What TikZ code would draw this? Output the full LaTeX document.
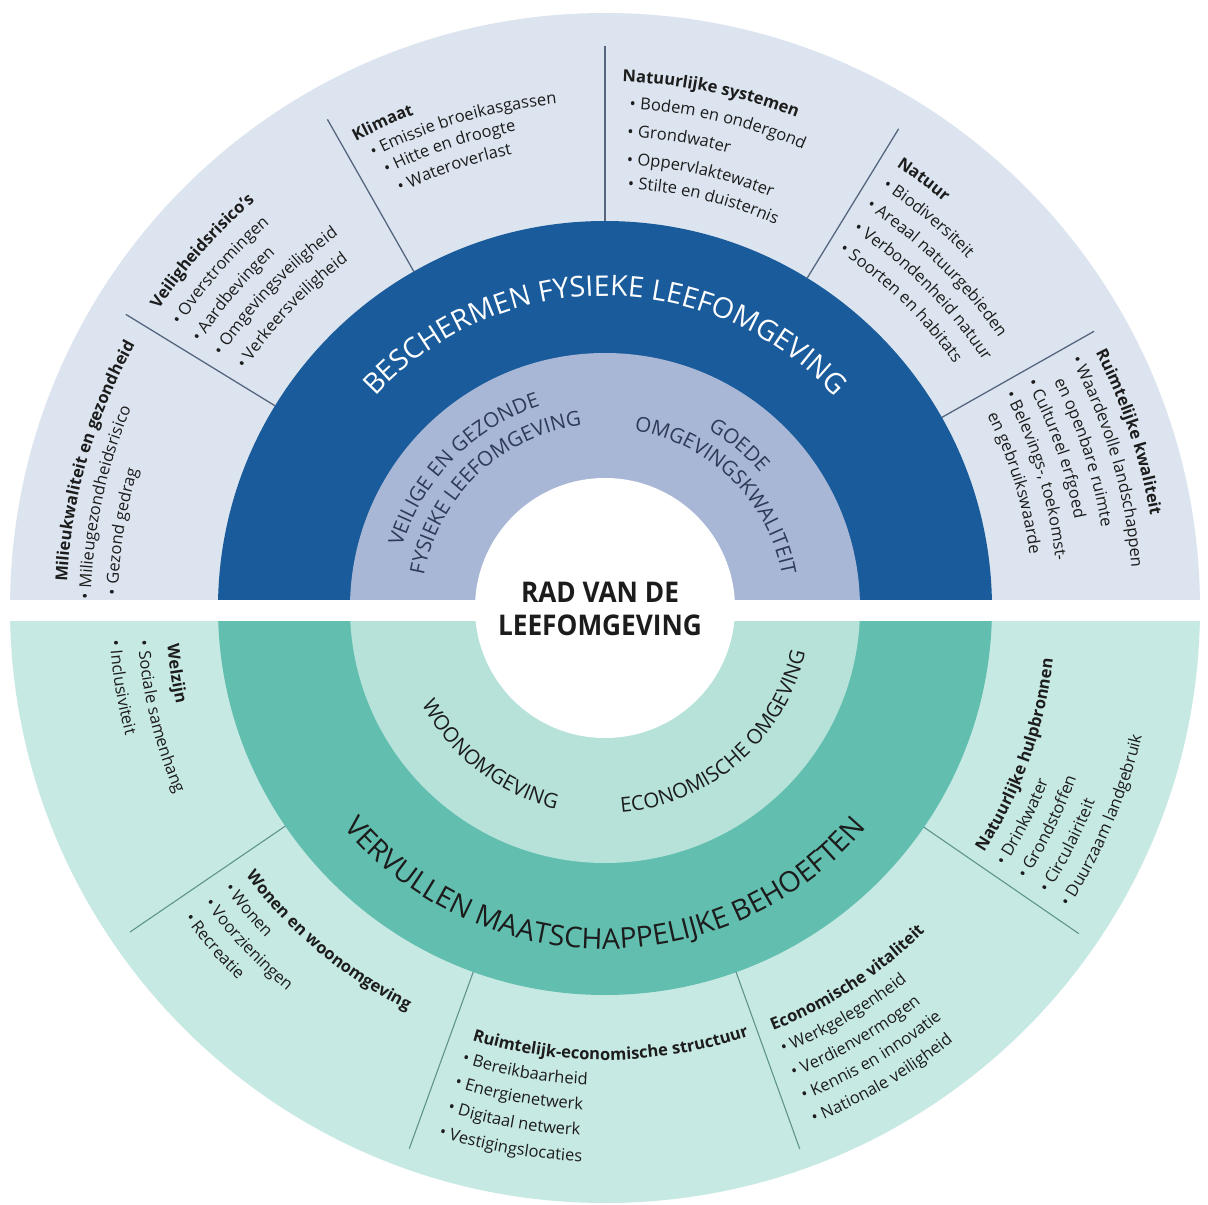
\documentclass[tikz,border=0pt]{standalone}
\usepackage{fontspec}
\usepackage{graphicx}
\setmainfont{Open Sans}
\usetikzlibrary{decorations.text}
\definecolor{topOuter}{HTML}{DCE5EF}
\definecolor{topDark}{HTML}{1A5B9B}
\definecolor{topInner}{HTML}{A8B7D6}
\definecolor{botOuter}{HTML}{C7E9E3}
\definecolor{botDark}{HTML}{62BFAF}
\definecolor{botInner}{HTML}{B6E2DA}
\definecolor{inkDark}{HTML}{1C1C1C}
\definecolor{inkBlue}{HTML}{2E3A56}
\definecolor{sepTopC}{HTML}{55667E}
\definecolor{sepBotC}{HTML}{5E948C}
\newcommand\wbody{\fontsize{16.5}{20}\selectfont\color{inkDark}}
\newcommand\whead{\fontsize{16.5}{20}\selectfont\bfseries\color{inkDark}}
\newcommand\wring{\fontsize{28.5}{31}\selectfont}
\newcommand\winner{\fontsize{20.5}{24}\selectfont}
% text on an arc around the centre: start angle, baseline radius, text
\newcommand\topline[3]{\path[decorate,decoration={text along path,text align=left,text={#3}}] (#1:#2) arc[start angle=#1,delta angle=-70,radius=#2];}
\newcommand\botline[3]{\path[decorate,decoration={text along path,text align=left,text={#3}}] (#1:#2) arc[start angle=#1,delta angle=70,radius=#2];}
\begin{document}
\begin{tikzpicture}[x=1pt,y=1pt,
  sepTop/.style={draw=sepTopC,line width=1.3pt},
  sepBot/.style={draw=sepBotC,line width=1.1pt},
  centerlbl/.style={font=\fontsize{28.5}{32}\selectfont\bfseries,text=inkDark,inner sep=0pt,anchor=base}]
\useasboundingbox (-605,-597) rectangle (603,608);
\fill[white] (-605,-597) rectangle (603,608);
% top half
\fill[topOuter] (0:595) arc[start angle=0,end angle=180,radius=595] -- cycle;
\fill[topDark] (0:387) arc[start angle=0,end angle=180,radius=387] -- cycle;
\fill[topInner] (0:255) arc[start angle=0,end angle=180,radius=255] -- cycle;
% bottom half
\fill[botOuter] (180:595) arc[start angle=180,end angle=360,radius=595] -- cycle;
\fill[botDark] (180:387) arc[start angle=180,end angle=360,radius=387] -- cycle;
\fill[botInner] (180:255) arc[start angle=180,end angle=360,radius=255] -- cycle;
\fill[white] (0,0) circle[radius=130];
% separators
\foreach \a in {29.5,58.5,90,119.6,148.5} \draw[sepTop] (\a:387) -- (\a:562);
\foreach \a in {214.3,250.1,289.8,325.5} \draw[sepBot] (\a:387) -- (\a:575);
% white band
\fill[white] (-605,8) rectangle (603,-13);
% ring labels
\path[decorate,decoration={text along path,text align=center,text={|\wring\color{white}|BESCHERMEN FYSIEKE LEEFOMGEVING}}] (160:312) arc[start angle=160,end angle=20,radius=312];
\path[decorate,decoration={text along path,text align=center,text={|\wring\color{inkDark}|VERVULLEN MAATSCHAPPELIJKE BEHOEFTEN}}] (200:341) arc[start angle=200,end angle=340,radius=341];
% inner ring labels
\path[decorate,decoration={text along path,text align=center,text={|\winner\color{inkBlue}|VEILIGE EN GEZONDE}}] (185.5:212) arc[start angle=185.5,end angle=85.5,radius=212];
\path[decorate,decoration={text along path,text align=center,text={|\winner\color{inkBlue}|FYSIEKE LEEFOMGEVING}}] (183.5:184) arc[start angle=183.5,end angle=83.5,radius=184];
\path[decorate,decoration={text along path,text align=center,text={|\winner\color{inkBlue}|GOEDE}}] (100.5:206) arc[start angle=100.5,end angle=0.5,radius=206];
\path[decorate,decoration={text along path,text align=center,text={|\winner\color{inkBlue}|OMGEVINGSKWALITEIT}}] (95.5:180) arc[start angle=95.5,end angle=-4.5,radius=180];
\path[decorate,decoration={text along path,text align=center,text={|\winner\color{inkDark}|WOONOMGEVING}}] (182:207) arc[start angle=182,end angle=282,radius=207];
\path[decorate,decoration={text along path,text align=center,text={|\winner\color{inkDark}|ECONOMISCHE OMGEVING}}] (256:205) arc[start angle=256,end angle=366,radius=205];
% centre
\node[centerlbl] (radA) at (-5,6) {\scalebox{0.92}[1]{RAD VAN DE}};
\node[centerlbl] (radB) at (-5,-27) {\scalebox{0.92}[1]{LEEFOMGEVING}};
% T1 Milieukwaliteit
\topline{177.2}{538.6}{|\whead|Milieukwaliteit en gezondheid}
\topline{179.0}{514.1}{|\wbody|• Milieugezondheidsrisico}
\topline{178.5}{487.2}{|\wbody|• Gezond gedrag}
% T2 Veiligheidsrisico's
\topline{146.2}{537.0}{|\whead|Veiligheidsrisico’s}
\topline{146.4}{510.0}{|\wbody|• Overstromingen}
\topline{146.8}{484.0}{|\wbody|• Aardbevingen}
\topline{146.7}{458.5}{|\wbody|• Omgevingsveiligheid}
\topline{146.5}{431.6}{|\wbody|• Verkeersveiligheid}
% T3 Klimaat
\topline{118.1}{529.0}{|\whead|Klimaat}
\topline{117.2}{506.4}{|\wbody|• Emissie broeikasgassen}
\topline{116.7}{485.1}{|\wbody|• Hitte en droogte}
\topline{116.2}{462.8}{|\wbody|• Wateroverlast}
% T4 Natuurlijke systemen
\topline{88.1}{526.3}{|\whead|Natuurlijke systemen}
\topline{87.2}{499.6}{|\wbody|• Bodem en ondergond}
\topline{87.3}{471.5}{|\wbody|• Grondwater}
\topline{87.2}{443.5}{|\wbody|• Oppervlaktewater}
\topline{86.9}{419.6}{|\wbody|• Stilte en duisternis}
% T5 Natuur
\topline{56.6}{529.2}{|\whead|Natuur}
\topline{56.6}{503.5}{|\wbody|• Biodiversiteit}
\topline{56.9}{477.6}{|\wbody|• Areaal natuurgebieden}
\topline{56.7}{451.7}{|\wbody|• Verbondenheid natuur}
\topline{56.7}{426.0}{|\wbody|• Soorten en habitats}
% T6 Ruimtelijke kwaliteit
\topline{27.5}{553}{|\whead|Ruimtelijke kwaliteit}
\topline{28.1}{528}{|\wbody|• Waardevolle landschappen}
\topline{26.8}{503}{|\wbody|en openbare ruimte}
\topline{28.1}{478}{|\wbody|• Cultureel erfgoed}
\topline{28.1}{453}{|\wbody|• Belevings-, toekomst-}
\topline{26.8}{428}{|\wbody|en gebruikswaarde}
% B1 Welzijn
\botline{184.8}{439.2}{|\whead|Welzijn}
\botline{184.0}{468.1}{|\wbody|• Sociale samenhang}
\botline{183.7}{496.1}{|\wbody|• Inclusiviteit}
% B2 Wonen en woonomgeving
\botline{216.7}{448}{|\whead|Wonen en woonomgeving}
\botline{216.3}{473}{|\wbody|• Wonen}
\botline{216.4}{498}{|\wbody|• Voorzieningen}
\botline{216.4}{523}{|\wbody|• Recreatie}
% B3 Ruimtelijk-economische structuur
\botline{252.9}{452}{|\whead|Ruimtelijk-economische structuur}
\botline{252.5}{477}{|\wbody|• Bereikbaarheid}
\botline{252.5}{502}{|\wbody|• Energienetwerk}
\botline{252.6}{528}{|\wbody|• Digitaal netwerk}
\botline{252.5}{554}{|\wbody|• Vestigingslocaties}
% B4 Economische vitaliteit
\botline{291.7}{455}{|\whead|Economische vitaliteit}
\botline{291.8}{480}{|\wbody|• Werkgelegenheid}
\botline{291.9}{506}{|\wbody|• Verdienvermogen}
\botline{292.0}{531}{|\wbody|• Kennis en innovatie}
\botline{292.1}{556}{|\wbody|• Nationale veiligheid}
% B5 Natuurlijke hulpbronnen
\botline{327.2}{451}{|\whead|Natuurlijke hulpbronnen}
\botline{327.1}{476}{|\wbody|• Drinkwater}
\botline{327.2}{501}{|\wbody|• Grondstoffen}
\botline{327.2}{527}{|\wbody|• Circulairiteit}
\botline{327.2}{552}{|\wbody|• Duurzaam landgebruik}
\end{tikzpicture}
\end{document}
